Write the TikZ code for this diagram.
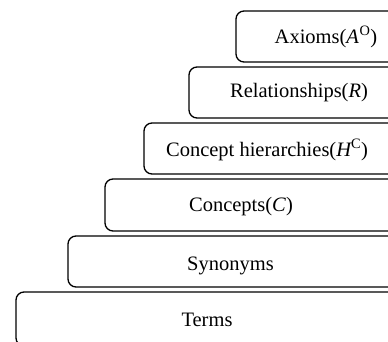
\documentclass[tikz,border=0pt]{standalone}
\usepackage{fontspec}
\setmainfont{Liberation Serif}
\begin{document}
\begin{tikzpicture}[x=1pt,y=-1pt,
  layerbox/.style={draw=black, line width=1.3pt, rounded corners=8pt, anchor=north west, inner sep=0pt, outer sep=0pt},
  layertext/.style={font=\fontsize{20.5}{24}\selectfont, inner sep=0pt}]
\useasboundingbox (0,0) rectangle (388,342);
\clip (0,0) rectangle (388,342);
\node[layerbox, minimum width=180pt, minimum height=51pt] (b1) at (236,11) {};
\node[layerbox, minimum width=227pt, minimum height=51pt] (b2) at (189,67) {};
\node[layerbox, minimum width=272pt, minimum height=51pt] (b3) at (144,123) {};
\node[layerbox, minimum width=311pt, minimum height=52pt] (b4) at (105,179) {};
\node[layerbox, minimum width=348pt, minimum height=51pt] (b5) at (68,236) {};
\node[layerbox, minimum width=400pt, minimum height=54pt] (b6) at (16,292) {};
\node[layertext] (t1) at (326,37) {Axioms(\textit{A}\kern0.5pt\textsuperscript{O})};
\node[layertext] (t2) at (299,93) {Relationships(\textit{R})};
\node[layertext] (t3) at (267,150) {Concept hierarchies(\textit{H}\kern-1pt\textsuperscript{C})};
\node[layertext] (t4) at (241,207) {Concepts(\textit{C})};
\node[layertext] (t5) at (230.5,266) {Synonyms};
\node[layertext] (t6) at (207,320) {Terms};
\end{tikzpicture}
\end{document}
